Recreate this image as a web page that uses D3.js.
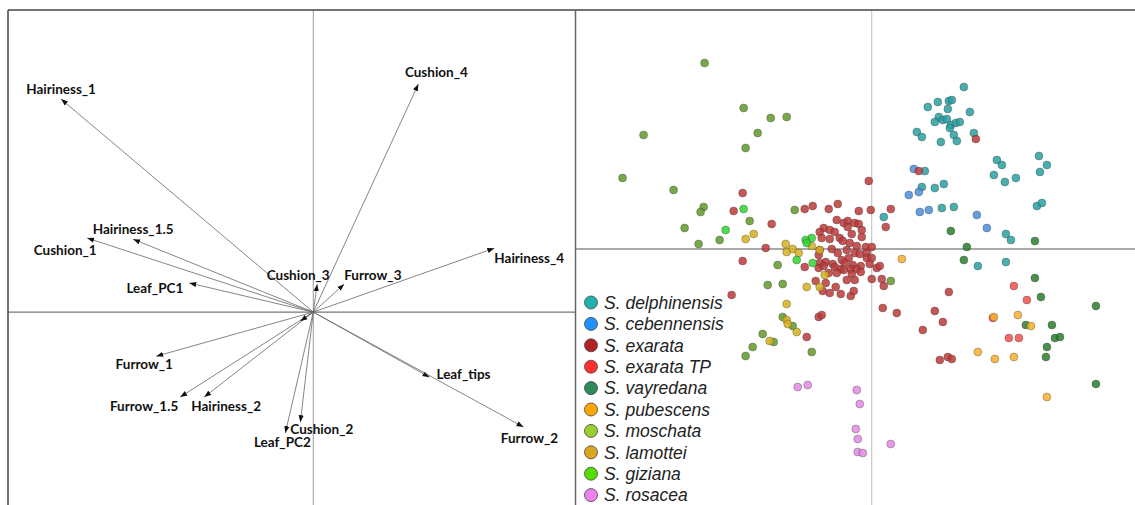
<!DOCTYPE html>
<html>
<head>
<meta charset="utf-8">
<script src="https://cdn.jsdelivr.net/npm/d3@7"></script>
<style>
  body { margin: 0; background: #fff; }
  svg { display: block; }
  .vlabel { font-family: Lato, "Liberation Sans", sans-serif; font-weight: 700; font-size: 13.5px; fill: #111; }
  .legend text { font-family: "Liberation Sans", Arial, sans-serif; font-style: italic; font-size: 17.5px; fill: #222; }
</style>
</head>
<body>
<svg id="chart" width="1135" height="505"></svg>
<script>
// ---- loadings (left biplot) ----
const variables = ['Hairiness_1', 'Cushion_4', 'Hairiness_1.5', 'Cushion_1', 'Leaf_PC1', 'Cushion_3',
  'Furrow_3', 'Hairiness_4', 'Furrow_1', 'Furrow_1.5', 'Hairiness_2', 'Cushion_2', 'Leaf_PC2',
  'Leaf_tips', 'Furrow_2', ''];
const loadX = [-0.84, 0.35, -0.60, -0.753, -0.413, 0.013, 0.103, 0.603, -0.523, -0.443, -0.363, -0.043, -0.093, 0.387, 0.70, -0.043];
const loadY = [0.71, 0.76, 0.243, 0.247, 0.097, 0.093, 0.093, 0.213, -0.147, -0.283, -0.283, -0.367, -0.403, -0.217, -0.383, -0.03];

// ---- scores (right scatter) ----
const species = ['S. delphinensis', 'S. cebennensis', 'S. exarata', 'S. exarata TP', 'S. vayredana',
  'S. pubescens', 'S. moschata', 'S. lamottei', 'S. giziana', 'S. rosacea'];

const delphinensis = [[9.2,16.2],[5.6,14.2],[6.6,14.7],[7.7,14.8],[8.0,14.9],[7.6,14.0],[9.8,13.7],[6.7,13.2],
  [6.3,12.7],[7.1,12.9],[7.5,13.0],[7.9,12.4],[7.8,12.1],[8.4,12.6],[8.8,12.7],[8.2,11.4],[8.5,10.8],[6.9,10.7],
  [4.5,11.7],[5.0,11.2],[10.2,11.6],[12.5,8.9],[13.0,8.4],[12.2,7.4],[13.3,6.7],[14.4,7.1],[16.7,9.3],[17.5,8.4],
  [16.8,7.7],[5.3,7.8],[5.0,6.2],[6.3,6.1],[7.2,6.5],[1.2,3.2],[7.0,4.1],[8.2,4.2],[13.4,1.5],[13.9,0.9],
  [16.5,4.3],[17.0,4.6],[10.6,-1.7],[13.4,-1.3]];
const cebennensis = [[4.2,8.0],[4.7,5.7],[3.7,5.4],[4.8,3.7],[5.7,3.9],[10.5,3.4],[11.5,2.1]];
const exarata = [[-0.3,6.8],[10.4,11.0],[4.7,7.8],[-12.9,5.6],[-13.8,3.8],[-10.0,2.5],[-10.6,0.1],[-12.9,-1.2],
  [-14.0,-4.6],[-6.7,4.0],[-5.9,4.3],[-4.3,4.0],[-3.4,4.5],[-1.3,3.8],[-0.1,3.9],[1.9,4.0],[1.4,2.2],
  [-3.5,2.9],[-2.8,2.6],[-2.4,2.8],[-1.7,2.6],[-1.3,2.5],[-4.8,2.1],[-4.2,1.9],[-3.7,1.7],[-5.2,1.7],[-2.4,2.2],
  [-1.0,1.9],[-2.0,1.5],[-1.0,1.2],[-5.0,1.1],[-4.2,1.0],[-3.2,1.1],[-2.9,0.8],[-2.2,0.6],[-1.5,0.3],[-0.6,0.2],
  [0.0,0.2],[-4.0,0.0],[-3.4,-0.4],[-2.5,-0.1],[-1.7,-0.4],[-1.2,-0.5],[-0.5,-0.4],[-5.2,-0.1],[-5.3,-0.6],
  [-3.0,-1.1],[-2.3,-0.9],[-0.5,-0.9],[0.0,-0.9],[-4.6,-1.3],[-3.9,-1.5],[-5.2,-1.4],[-2.7,-1.4],[-1.9,-1.6],
  [-1.1,-1.7],[-0.2,-1.5],[-6.7,-1.8],[-5.3,-1.9],[-4.8,-1.7],[-3.7,-1.8],[-3.1,-2.0],[-2.8,-2.1],[-2.1,-2.0],
  [-1.5,-2.0],[-1.1,-2.3],[0.5,-1.9],[0.8,-1.7],[-4.3,-2.4],[-3.5,-2.4],[-2.0,-2.5],[-5.6,-3.2],[-4.6,-3.4],
  [-2.5,-3.1],[-1.7,-3.1],[0.0,-3.0],[1.0,-3.0],[1.2,-3.7],[-3.6,-3.8],[-4.9,-4.2],[-4.2,-4.4],[-3.1,-4.5],
  [-2.1,-4.7],[-1.8,-4.2],[1.1,-5.9],[2.5,-6.4],[-5.3,-6.8],[-5.0,-6.6],[-6.5,-8.8],[6.3,-6.2],[7.1,-7.3],
  [5.1,-8.1],[7.7,-4.3],[6.8,-11.1],[7.6,-10.8],[8.0,-11.0]];
const exarataTP = [[14.2,-3.7],[15.5,-5.1],[12.1,-6.9],[13.7,-8.9],[14.7,-8.9]];
const vayredana = [[7.9,1.8],[9.5,0.2],[16.3,0.8],[9.2,-1.1],[16.3,-2.9],[16.9,-4.8],[22.4,-5.7],[15.4,-7.6],
  [18.0,-7.6],[18.3,-8.9],[18.8,-8.8],[17.5,-9.8],[17.4,-10.8],[22.4,-13.5]];
const pubescens = [[3.0,-1.0],[12.2,-6.8],[14.6,-6.6],[15.9,-7.7],[10.6,-10.3],[12.3,-11.0],[14.2,-10.8],[17.5,-14.8]];
const moschata = [[-16.7,18.6],[-12.8,14.1],[-10.1,13.1],[-8.5,13.2],[-22.8,11.4],[-11.4,11.6],[-12.6,10.1],
  [-24.9,7.1],[-19.8,5.9],[-16.8,4.2],[-17.1,3.7],[-7.7,3.9],[-12.2,2.8],[-18.7,2.1],[-15.2,0.9],[-17.3,0.5],
  [-9.4,-1.6],[-10.4,-3.6],[-8.9,-3.5],[1.9,-3.2],[-8.9,-6.8],[-7.9,-7.7],[-10.9,-8.5],[-9.8,-9.3],[-11.9,-9.8],
  [-12.6,-10.7],[-6.0,-10.3]];
const lamottei = [[-12.6,1.0],[-11.8,1.5],[-8.6,0.5],[-8.5,-0.3],[-7.9,0.0],[-7.3,-0.4],[-6.0,0.3],[-5.2,-0.1],
  [-4.7,-2.6],[-6.5,-3.8],[-5.2,-3.8],[-8.5,-5.5],[-8.5,-7.1],[-8.4,-7.5],[-7.5,-8.3],[-10.2,-9.2]];
const giziana = [[-12.8,4.0],[-14.6,1.9],[-6.0,1.1],[-6.6,0.9],[-6.5,0.6],[-7.5,-1.1],[-5.9,-1.4]];
const rosacea = [[-7.4,-13.8],[-6.4,-13.6],[-1.5,-14.1],[-1.2,-15.5],[-1.6,-18.0],[-1.4,-19.0],[-1.4,-20.3],
  [-0.9,-20.4],[1.9,-19.5]];

const scores = [delphinensis, cebennensis, exarata, exarataTP, vayredana, pubescens, moschata, lamottei, giziana, rosacea];

// label placement around arrow tips: [dx, dy, anchor]
const labelNudge = {
  'Hairiness_1': [0, -10, 'middle'], 'Cushion_4': [18, -12, 'middle'], 'Hairiness_1.5': [0, -10, 'middle'],
  'Cushion_1': [-22, 12, 'middle'], 'Leaf_PC1': [-6, 5, 'end'], 'Cushion_3': [-19, -9, 'middle'],
  'Furrow_3': [0, -9, 'start'], 'Hairiness_4': [0, 10, 'start'], 'Furrow_1': [-12, 8, 'middle'],
  'Furrow_1.5': [-2, 9, 'end'], 'Hairiness_2': [-13, 9, 'start'], 'Cushion_2': [-10, 7, 'start'],
  'Leaf_PC2': [-3, 9, 'middle'], 'Leaf_tips': [7, -3, 'start'], 'Furrow_2': [6, 11, 'middle']
};

const W = 1135, H = 505;
const padTop = 10, padLeft = 8, split = 575.5;
const svg = d3.select('#chart');

// ---------- left panel ----------
const xL = d3.scaleLinear().domain([-1.0167, 0.8733]).range([padLeft, split]);
const yL = d3.scaleLinear().domain([-0.643, 1.007]).range([H, padTop]);

svg.append('defs').append('marker')
  .attr('id', 'arrow')
  .attr('viewBox', '0 -3 7 6')
  .attr('refX', 7).attr('refY', 0)
  .attr('markerWidth', 7).attr('markerHeight', 6)
  .attr('markerUnits', 'userSpaceOnUse')
  .attr('orient', 'auto')
  .append('path').attr('d', 'M0,-2.6L7,0L0,2.6Z').attr('fill', '#111');

const gL = svg.append('g');
gL.append('line').attr('x1', xL(0)).attr('x2', xL(0)).attr('y1', padTop).attr('y2', H)
  .attr('stroke', '#9a9a9a').attr('stroke-width', 1);
gL.append('line').attr('x1', padLeft).attr('x2', split).attr('y1', yL(0)).attr('y2', yL(0))
  .attr('stroke', '#555').attr('stroke-width', 1);

const loadings = variables.map((v, i) => ({ name: v, x: loadX[i], y: loadY[i] }));

gL.selectAll('.vec').data(loadings).join('line')
  .attr('class', 'vec')
  .attr('x1', xL(0)).attr('y1', yL(0))
  .attr('x2', d => xL(d.x)).attr('y2', d => yL(d.y))
  .attr('stroke', '#666').attr('stroke-width', 0.8)
  .attr('marker-end', 'url(#arrow)');

gL.selectAll('.vlabel').data(loadings.filter(d => d.name)).join('text')
  .attr('class', 'vlabel')
  .attr('x', d => xL(d.x) + labelNudge[d.name][0])
  .attr('y', d => yL(d.y) + labelNudge[d.name][1])
  .attr('dy', '0.35em')
  .attr('text-anchor', d => labelNudge[d.name][2])
  .text(d => d.name);

// ---------- right panel ----------
const xR = d3.scaleLinear().domain([-29.6, 26.3]).range([split, W]);
const yR = d3.scaleLinear().domain([-25.6, 23.9]).range([H, padTop]);

const legendColor = d3.scaleOrdinal().domain(species)
  .range(['#20b2aa', '#1e90ff', '#b22222', '#ff3030', '#2e8b57', '#ffa500', '#9acd32', '#daa520', '#55dd00', '#ee82ee']);
const pointColor = d3.scaleOrdinal().domain(species)
  .range(['#2a9fa0', '#4a8ed8', '#bb3a3a', '#f25050', '#2c7d30', '#f8ae2c', '#62992c', '#d6b01e', '#2fd52f', '#e08ae0']);

const gR = svg.append('g');
gR.append('line').attr('x1', xR(0)).attr('x2', xR(0)).attr('y1', padTop).attr('y2', H)
  .attr('stroke', '#bbb').attr('stroke-width', 1);
gR.append('line').attr('x1', split).attr('x2', W).attr('y1', yR(0)).attr('y2', yR(0))
  .attr('stroke', '#555').attr('stroke-width', 1.2);

const pts = scores.flatMap((arr, i) => arr.map(p => ({ sp: species[i], x: p[0], y: p[1] })));
gR.selectAll('.pt').data(pts).join('circle')
  .attr('class', 'pt')
  .attr('cx', d => xR(d.x)).attr('cy', d => yR(d.y))
  .attr('r', 4)
  .attr('fill', d => pointColor(d.sp)).attr('fill-opacity', 0.85)
  .attr('stroke', '#333').attr('stroke-opacity', 0.45).attr('stroke-width', 0.7);

const legend = gR.append('g').attr('class', 'legend')
  .attr('transform', `translate(${split + 15.5}, 302.5)`);
const row = legend.selectAll('g').data(species).join('g')
  .attr('transform', (d, i) => `translate(0, ${i * 21.4})`);
row.append('circle').attr('r', 6.5)
  .attr('fill', d => legendColor(d))
  .attr('stroke', '#444').attr('stroke-width', 0.8);
row.append('text').attr('x', 13).attr('dy', '0.36em').text(d => d);

// ---------- frame ----------
svg.append('line').attr('x1', padLeft).attr('x2', W).attr('y1', padTop).attr('y2', padTop)
  .attr('stroke', '#444').attr('stroke-width', 1.5);
svg.append('line').attr('x1', padLeft).attr('x2', padLeft).attr('y1', padTop).attr('y2', H)
  .attr('stroke', '#444').attr('stroke-width', 1.5);
svg.append('line').attr('x1', split).attr('x2', split).attr('y1', padTop).attr('y2', H)
  .attr('stroke', '#666').attr('stroke-width', 1.5);
</script>
</body>
</html>
